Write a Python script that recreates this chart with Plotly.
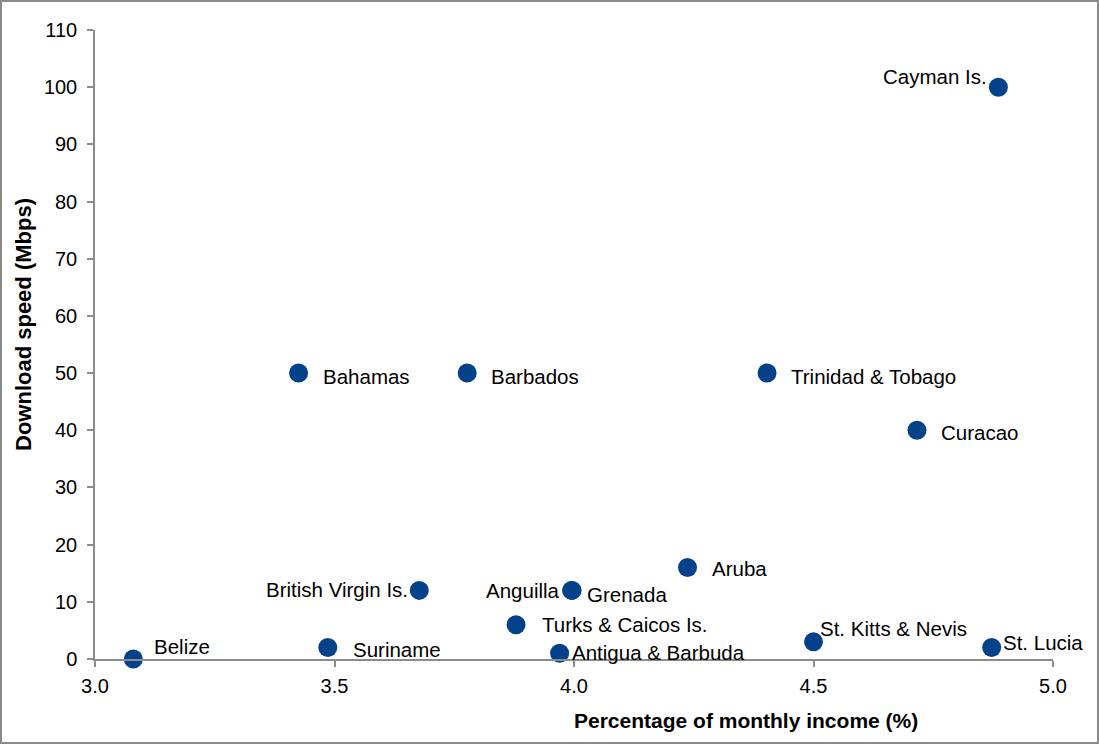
import plotly.graph_objects as go

countries = ["Cayman Is.", "Bahamas", "Barbados", "Trinidad & Tobago", "Curacao",
             "Aruba", "British Virgin Is.", "Anguilla", "Grenada", "Turks & Caicos Is.",
             "Antigua & Barbuda", "Belize", "Suriname", "St. Kitts & Nevis", "St. Lucia"]
income_pct = [4.886, 3.425, 3.777, 4.403, 4.716, 4.237, 3.677, 3.995, 3.996, 3.879,
              3.97, 3.08, 3.486, 4.50, 4.872]
speed_mbps = [100, 50, 50, 50, 40, 16, 12, 12, 12, 6, 1, 0, 2, 3, 2]

x_ticks = [3.0, 3.5, 4.0, 4.5, 5.0]
y_ticks = [0, 10, 20, 30, 40, 50, 60, 70, 80, 90, 100, 110]
x_title = "Percentage of monthly income (%)"
y_title = "Download speed (Mbps)"

# label placement styles: (xanchor, xshift px, yshift px)
label_style = [("right", -9, 11), ("left", 22, -3), ("left", 22, -3), ("left", 22, -3),
               ("left", 22, -2), ("left", 22, -1), ("right", -9, 1), ("right", -10, 0),
               ("left", 13, -4), ("left", 24, 0), ("left", 10, 1), ("left", 19, 13),
               ("left", 23, -2), ("left", 4, 13), ("left", 9, 5)]

FONT = "Liberation Sans, Arial, sans-serif"
MARKER = "#03428A"
W, H = 1099, 744
L, R, T, B = 95, 46, 30, 85
pw = W - L - R
ph = H - T - B

fig = go.Figure()
fig.add_trace(go.Scatter(
    x=income_pct, y=speed_mbps, mode="markers",
    marker=dict(size=19, color=MARKER, line=dict(width=0)),
    hoverinfo="text", text=countries, showlegend=False, cliponaxis=False,
))

annotations = []
for name, xv, yv, (anc, xs, ys) in zip(countries, income_pct, speed_mbps, label_style):
    annotations.append(dict(
        x=xv, y=yv, xref="x", yref="y", text=name, showarrow=False,
        xanchor=anc, yanchor="middle", xshift=xs, yshift=ys,
        font=dict(family=FONT, size=20.5, color="#000000"),
    ))

# axis titles (offset like the reference)
annotations.append(dict(
    x=(746 - L) / pw, y=0, xref="paper", yref="paper", text=f"<b>{x_title}</b>",
    showarrow=False, xanchor="center", yanchor="middle", yshift=-61,
    font=dict(family=FONT, size=21, color="#000000"),
))
annotations.append(dict(
    x=0, y=(H - B - 325) / ph, xref="paper", yref="paper", text=f"<b>{y_title}</b>",
    showarrow=False, xanchor="center", yanchor="middle", xshift=23 - L, textangle=-90,
    font=dict(family=FONT, size=22, color="#000000"),
))

shapes = [dict(
    type="rect", xref="paper", yref="paper",
    x0=(1 - L) / pw, x1=(W - 1 - L) / pw,
    y0=-(H - 1 - T - ph) / ph, y1=(T - 1) / ph + 1,
    line=dict(color="#8a8a8a", width=2), fillcolor="rgba(0,0,0,0)", layer="below",
)]

fig.update_layout(
    width=W, height=H,
    margin=dict(l=L, r=R, t=T, b=B, pad=0),
    paper_bgcolor="white", plot_bgcolor="white",
    font=dict(family=FONT, size=20, color="#000000"),
    annotations=annotations, shapes=shapes,
    xaxis=dict(
        range=[3.0, 5.0], tickvals=x_ticks, ticktext=[f"{v:.1f}" for v in x_ticks],
        showgrid=False, zeroline=False, showline=True, linecolor="#8c8c8c", linewidth=1.5,
        ticks="outside", ticklen=6, tickcolor="#8c8c8c", tickwidth=1.5,
        tickfont=dict(size=20, family=FONT), ticklabelstandoff=2,
    ),
    yaxis=dict(
        range=[0, 110], tickvals=y_ticks, ticktext=[str(v) for v in y_ticks],
        showgrid=False, zeroline=False, showline=True, linecolor="#8c8c8c", linewidth=1.5,
        ticks="outside", ticklen=6, tickcolor="#8c8c8c", tickwidth=1.5,
        tickfont=dict(size=20, family=FONT), ticklabelstandoff=6,
    ),
)

fig.write_html("out.html", config={"displayModeBar": False},
               post_script="document.body.style.margin='0';document.body.style.overflow='hidden';")
